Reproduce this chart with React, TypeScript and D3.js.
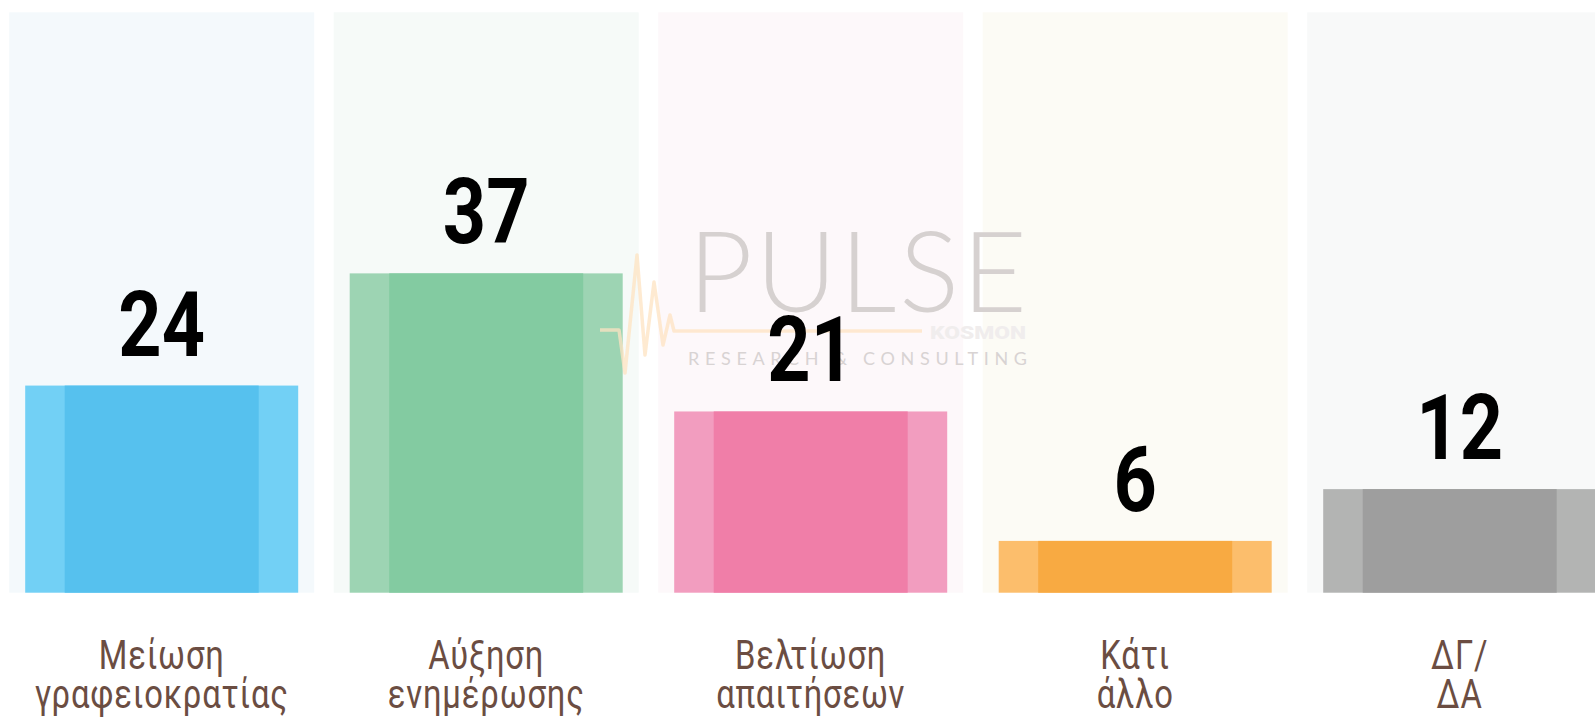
import React from "react";
import * as d3 from "d3";

const categories = ["Μείωση γραφειοκρατίας", "Αύξηση ενημέρωσης", "Βελτίωση απαιτήσεων", "Κάτι άλλο", "ΔΓ/ ΔΑ"];
const labelLines = [["Μείωση", "γραφειοκρατίας"], ["Αύξηση", "ενημέρωσης"], ["Βελτίωση", "απαιτήσεων"], ["Κάτι", "άλλο"], ["ΔΓ/", "ΔΑ"]];
const values = [24, 37, 21, 6, 12];
const panelColors = ["#f4f9fc", "#f6faf8", "#fdf8fa", "#fcfbf5", "#f8f9f9"];
const outerColors = ["#72d0f5", "#9dd4b3", "#f29dbf", "#fcbe6c", "#b3b4b3"];
const innerColors = ["#56c1ee", "#83cba1", "#f07ea8", "#f8aa42", "#9e9e9e"];
// pulse watermark trace
const pulseX = [600, 619, 625, 637, 645, 654, 663, 670, 674, 922];
const pulseY = [330, 330, 373, 255, 355, 282, 345, 315, 331, 331];

const W = 1595;
const H = 719;

export default function App() {
  const step = 324.5;
  const pad = 19.5 / step;
  const x = d3
    .scaleBand<string>()
    .domain(categories)
    .range([9.2 - 9.75, 9.2 - 9.75 + step * categories.length])
    .paddingInner(pad)
    .paddingOuter(pad / 2);
  const y = d3.scaleLinear().domain([0, 67.25]).range([592.7, 12.3]);
  const bw = x.bandwidth();
  const barInset = 16;
  const barW = 273;
  const side = 39.5;

  const pulse = d3.line<number>().x((d) => d).y((_, i) => pulseY[i]);

  return (
    <div style={{ position: "absolute", left: 0, top: 0, width: W, height: H, overflow: "hidden", background: "#fff" }}>
      <svg width={W} height={H} style={{ display: "block" }}>
        {categories.map((c, i) => {
          const bx = x(c)!;
          return (
            <rect key={"p" + i} x={bx} y={y.range()[1]} width={bw} height={y(0) - y.range()[1]} fill={panelColors[i]} />
          );
        })}
        {categories.map((c, i) => {
          const bx = x(c)! + barInset;
          const top = y(values[i]);
          const h = y(0) - top;
          return (
            <g key={"b" + i}>
              <rect x={bx} y={top} width={barW} height={h} fill={outerColors[i]} />
              <rect x={bx + side} y={top} width={barW - 2 * side} height={h} fill={innerColors[i]} />
            </g>
          );
        })}
        {/* watermark */}
        <g>
          <path d={pulse(pulseX) || ""} fill="none" stroke="#fde3c2" strokeWidth={3.5} strokeLinejoin="round" opacity={0.75} />
          <text
            x={688}
            y={312}
            fontFamily="Lato, 'Open Sans', sans-serif"
            fontWeight={300}
            fontSize={112}
            fill="#d6d1d0"
            textLength={339}
            lengthAdjust="spacing"
          >
            PULSE
          </text>
          <text
            x={930}
            y={339}
            fontFamily="Roboto, sans-serif"
            fontWeight={900}
            fontSize={18}
            fill="#f0eded"
            textLength={96}
            lengthAdjust="spacingAndGlyphs"
          >
            KOSMON
          </text>
          <text
            x={688}
            y={365}
            fontFamily="Lato, 'Open Sans', sans-serif"
            fontWeight={400}
            fontSize={18}
            fill="#d8d3d3"
            textLength={339}
            lengthAdjust="spacing"
          >
            RESEARCH &amp; CONSULTING
          </text>
        </g>
        {categories.map((c, i) => {
          const cx = x(c)! + bw / 2;
          const top = y(values[i]);
          return (
            <g key={"v" + i} transform={`translate(${cx},${top - 30}) scale(0.84,1)`}>
              <text textAnchor="middle" fontFamily="Roboto, sans-serif" fontWeight={700} fontSize={90} fill="#000">
                {values[i]}
              </text>
            </g>
          );
        })}
        {categories.map((c, i) => {
          const cx = x(c)! + bw / 2;
          return (
            <g key={"l" + i} transform={`translate(${cx},669) scale(0.82,1)`}>
              {labelLines[i].map((ln, j) => (
                <text
                  key={j}
                  y={j * 39}
                  textAnchor="middle"
                  fontFamily="Roboto, sans-serif"
                  fontSize={40}
                  letterSpacing={1}
                  fill="#6b4d42"
                >
                  {ln}
                </text>
              ))}
            </g>
          );
        })}
      </svg>
    </div>
  );
}
